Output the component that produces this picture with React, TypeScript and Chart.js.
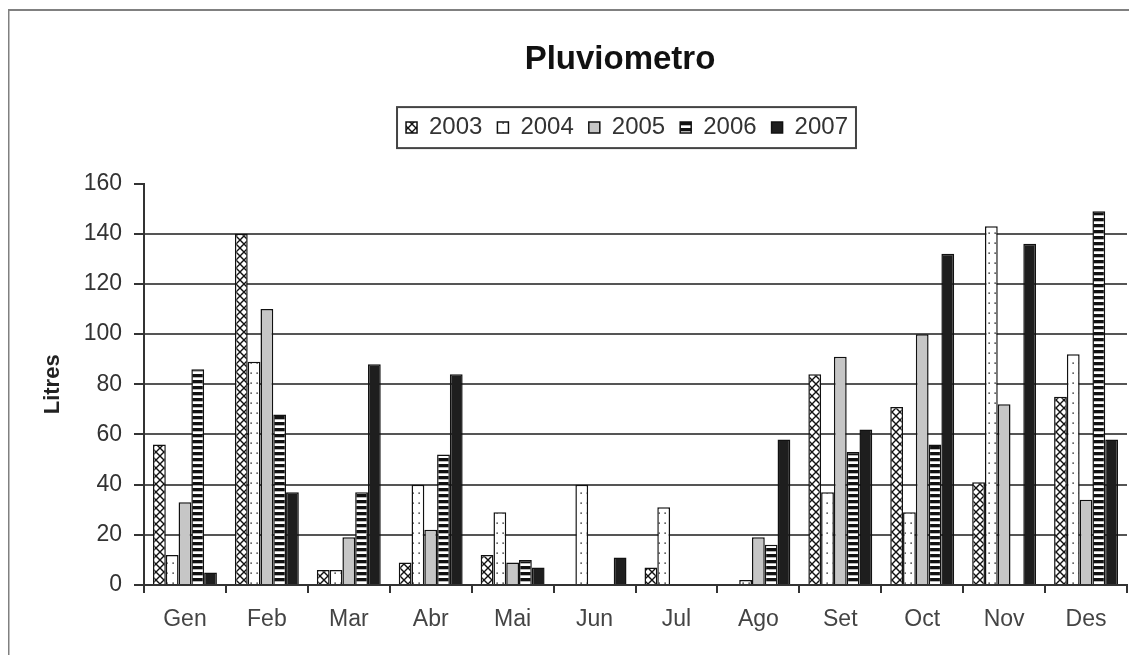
import React, { useEffect, useRef } from "react";
import { Chart, registerables } from "chart.js";

Chart.register(...registerables);

const months = ["Gen", "Feb", "Mar", "Abr", "Mai", "Jun", "Jul", "Ago", "Set", "Oct", "Nov", "Des"];
const years = ["2003", "2004", "2005", "2006", "2007"];
const v2003 = [56, 140, 6, 9, 12, 0, 7, 0, 84, 71, 41, 75];
const v2004 = [12, 89, 6, 40, 29, 40, 31, 2, 37, 29, 143, 92];
const v2005 = [33, 110, 19, 22, 9, 0, 0, 19, 91, 100, 72, 34];
const v2006 = [86, 68, 37, 52, 10, 0, 0, 16, 53, 56, 0, 149];
const v2007 = [5, 37, 88, 84, 7, 11, 0, 58, 62, 132, 136, 58];
const yMin = 0;
const yMax = 160;
const yStep = 20;
const chartTitle = "Pluviometro";
const yTitle = "Litres";

const FONT = "'Liberation Sans', Arial, Helvetica, sans-serif";

export default function App() {
  const ref = useRef<HTMLCanvasElement>(null);

  useEffect(() => {
    const canvas = ref.current!;
    const ctx = canvas.getContext("2d")!;
    const pat = (w: number, h: number, draw: (g: CanvasRenderingContext2D) => void) => {
      const c = document.createElement("canvas");
      c.width = w;
      c.height = h;
      const g = c.getContext("2d")!;
      draw(g);
      return ctx.createPattern(c, "repeat")!;
    };
    const p2003 = pat(8, 8, (g) => {
      g.fillStyle = "#fff";
      g.fillRect(0, 0, 8, 8);
      g.strokeStyle = "#111";
      g.lineWidth = 1.4;
      g.beginPath();
      g.moveTo(0, 0);
      g.lineTo(8, 8);
      g.moveTo(8, 0);
      g.lineTo(0, 8);
      g.stroke();
    });
    const p2004 = pat(6, 10, (g) => {
      g.fillStyle = "#fff";
      g.fillRect(0, 0, 6, 10);
      g.fillStyle = "#444";
      g.fillRect(2.4, 4.4, 1.5, 1.5);
    });
    const p2006 = pat(4, 6, (g) => {
      g.fillStyle = "#fff";
      g.fillRect(0, 0, 4, 6);
      g.fillStyle = "#111";
      g.fillRect(0, 0, 4, 3.3);
    });
    const fills = [p2003, p2004, "#c6c6c6", p2006, "#1e1e1e"];
    const series = [v2003, v2004, v2005, v2006, v2007];
    const legendShift = 7;

    const framePlugin = {
      id: "framePlugin",
      afterUpdate(chart: any) {
        const lg = chart.legend;
        if (lg) {
          lg.left += legendShift;
          lg.right += legendShift;
          (lg.legendHitBoxes || []).forEach((b: any) => {
            b.left += legendShift;
          });
        }
      },
      beforeDraw(chart: any) {
        const c = chart.ctx;
        c.save();
        c.fillStyle = "#fff";
        c.fillRect(0, 0, chart.width, chart.height);
        c.strokeStyle = "#808080";
        c.lineWidth = 2;
        c.strokeRect(0.5, 2, chart.width + 20, chart.height + 20);
        c.restore();
      },
      afterDraw(chart: any) {
        const boxes = chart.legend && chart.legend.legendHitBoxes;
        if (!boxes || !boxes.length) return;
        let l = Infinity;
        let r = -Infinity;
        boxes.forEach((b: any) => {
          l = Math.min(l, b.left);
          r = Math.max(r, b.left + b.width);
        });
        const cy = boxes[0].top + boxes[0].height / 2;
        const c = chart.ctx;
        c.save();
        c.strokeStyle = "#444";
        c.lineWidth = 2;
        c.strokeRect(l - 9, cy - 20.5, r - l + 17, 41);
        c.restore();
      },
    };

    const chart = new Chart(canvas, {
      type: "bar",
      data: {
        labels: months,
        datasets: years.map((y, i) => ({
          label: y,
          data: series[i],
          backgroundColor: fills[i] as any,
          borderColor: "#111",
          borderWidth: 1.5,
          categoryPercentage: 0.78,
          barPercentage: 1,
        })),
      },
      options: {
        responsive: false,
        maintainAspectRatio: false,
        animation: false,
        layout: { padding: 0 },
        plugins: {
          title: {
            display: true,
            text: chartTitle,
            color: "#111",
            font: { family: FONT, size: 33, weight: "bold" },
            padding: { top: 32, bottom: 21 },
          },
          subtitle: {
            display: true,
            text: " ",
            weight: 500,
            font: { family: FONT, size: 10 },
            padding: { top: 22, bottom: 0 },
          } as any,
          legend: {
            display: true,
            position: "top",
            labels: {
              boxWidth: 11,
              boxHeight: 11,
              padding: 15,
              color: "#333",
              font: { family: FONT, size: 24 },
            },
          },
          tooltip: { enabled: false },
        },
        scales: {
          x: {
            grid: {
              offset: true,
              drawOnChartArea: false,
              drawTicks: true,
              tickLength: 8,
              color: "#333",
              lineWidth: 2,
            },
            border: { display: true, color: "#333", width: 2 },
            ticks: {
              color: "#444",
              padding: 13,
              autoSkip: false,
              maxRotation: 0,
              font: { family: FONT, size: 23 },
            },
            afterFit: (s: any) => {
              s.height = 123;
            },
          },
          y: {
            min: yMin,
            max: yMax,
            ticks: {
              stepSize: yStep,
              color: "#333",
              padding: 12,
              font: { family: FONT, size: 23 },
            },
            grid: {
              color: (c: any) => (c.tick && c.tick.value === yMax ? "rgba(0,0,0,0)" : "#555"),
              tickColor: "#333",
              lineWidth: 2,
              tickLength: 10,
            },
            border: { display: true, color: "#333", width: 2 },
            title: {
              display: true,
              text: yTitle,
              color: "#222",
              font: { family: FONT, size: 22, weight: "bold" },
              padding: { top: 32, bottom: 0 },
            },
            afterFit: (s: any) => {
              s.width = 136;
            },
          },
          pad: {
            type: "linear",
            position: "right",
            display: true,
            grid: { display: false, drawTicks: false },
            border: { display: false },
            ticks: { display: false },
            afterFit: (s: any) => {
              s.width = 105;
            },
          } as any,
        },
      },
      plugins: [framePlugin],
    });
    return () => chart.destroy();
  }, []);

  return (
    <div
      style={{
        position: "fixed",
        left: 8,
        top: 8,
        width: 1121,
        height: 647,
        overflow: "hidden",
        background: "#fff",
      }}
    >
      <canvas ref={ref} width={1224} height={700} style={{ display: "block" }} />
    </div>
  );
}
